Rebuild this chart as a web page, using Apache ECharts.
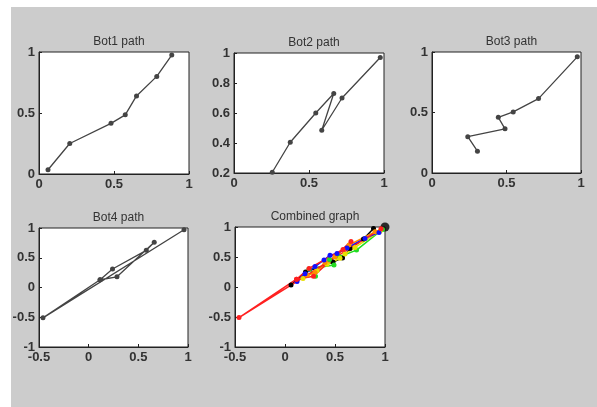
<!DOCTYPE html>
<html>
<head>
<meta charset="utf-8">
<script src="https://cdn.jsdelivr.net/npm/echarts@6/dist/echarts.min.js"></script>
<style>
  html, body { margin: 0; padding: 0; background: #fff; }
  #bg { position: absolute; left: 11px; top: 7px; right: 0; bottom: 0; background: #cccccc; }
  #chart { position: absolute; left: 0; top: 0; width: 597px; height: 407px; }
</style>
</head>
<body>
<div id="bg"></div>
<div id="chart"></div>
<script>
  // path data
  var bot1 = [[0.06, 0.035], [0.205, 0.25], [0.48, 0.415], [0.575, 0.485], [0.65, 0.64], [0.785, 0.8], [0.885, 0.975]];
  var bot2 = [[0.255, 0.205], [0.375, 0.405], [0.545, 0.6], [0.665, 0.73], [0.585, 0.485], [0.72, 0.7], [0.975, 0.97]];
  var bot3 = [[0.305, 0.18], [0.24, 0.3], [0.49, 0.365], [0.445, 0.46], [0.545, 0.505], [0.715, 0.615], [0.975, 0.96]];
  var bot4 = [[0.115, 0.13], [0.24, 0.31], [0.58, 0.625], [0.66, 0.76], [0.285, 0.18], [0.115, 0.13], [-0.46, -0.51], [0.96, 0.97]];
  // extra paths only seen in the combined graph
  var botBlue = [[0.12, 0.09], [0.2, 0.22], [0.3, 0.34], [0.39, 0.45], [0.45, 0.53], [0.52, 0.56], [0.62, 0.65], [0.8, 0.81], [0.94, 0.91]];
  var botYellow = [[0.18, 0.14], [0.32, 0.27], [0.42, 0.38], [0.55, 0.48], [0.6, 0.55], [0.7, 0.66], [0.95, 0.93]];
  var botOrange = [[0.22, 0.2], [0.3, 0.24], [0.4, 0.41], [0.5, 0.5], [0.64, 0.7], [0.9, 0.92]];
  var target = [[1, 1]];

  var titles = ['Bot1 path', 'Bot2 path', 'Bot3 path', 'Bot4 path', 'Combined graph'];
  var xRanges = [[0, 1], [0, 1], [0, 1], [-0.5, 1], [-0.5, 1]];
  var yRanges = [[0, 1, 0.5], [0.2, 1, 0.2], [0, 1, 0.5], [-1, 1, 0.5], [-1, 1, 0.5]];

  var boxes = [
    { left: 39, top: 52, width: 150, height: 122 },
    { left: 234, top: 53, width: 150, height: 120 },
    { left: 432, top: 52, width: 149, height: 121 },
    { left: 39, top: 228, width: 149, height: 119 },
    { left: 235, top: 227, width: 150, height: 120 }
  ];

  var labelStyle = { color: '#333', fontWeight: 'bold', fontFamily: 'Arial, Liberation Sans, sans-serif', fontSize: 13 };

  var grids = [], xAxes = [], yAxes = [], titleList = [];
  boxes.forEach(function (b, i) {
    grids.push({ left: b.left, top: b.top, width: b.width, height: b.height,
      show: true, backgroundColor: '#fff', borderColor: '#222', borderWidth: 1, containLabel: false });
    xAxes.push({ type: 'value', gridIndex: i, min: xRanges[i][0], max: xRanges[i][1], interval: 0.5,
      axisLine: { onZero: false, lineStyle: { color: '#222' } },
      axisTick: { inside: true, length: 3, lineStyle: { color: '#222' } },
      splitLine: { show: false },
      axisLabel: Object.assign({ margin: 4 }, labelStyle) });
    yAxes.push({ type: 'value', gridIndex: i, min: yRanges[i][0], max: yRanges[i][1], interval: yRanges[i][2],
      axisLine: { onZero: false, lineStyle: { color: '#222' } },
      axisTick: { inside: true, length: 3, lineStyle: { color: '#222' } },
      splitLine: { show: false },
      axisLabel: Object.assign({ margin: 4 }, labelStyle) });
    titleList.push({ text: titles[i], left: b.left + b.width / 2, top: b.top - 21, textAlign: 'center',
      textStyle: { color: '#333', fontWeight: 'normal', fontSize: 12, fontFamily: 'Arial, Liberation Sans, sans-serif' } });
  });

  function path(data, idx, color, width, size) {
    return { type: 'line', xAxisIndex: idx, yAxisIndex: idx, data: data,
      symbol: 'circle', symbolSize: size || 5, showSymbol: true,
      lineStyle: { color: color, width: width }, itemStyle: { color: color },
      animation: false, silent: true };
  }

  var series = [
    path(bot1, 0, '#444', 1.3),
    path(bot2, 1, '#444', 1.3),
    path(bot3, 2, '#444', 1.3),
    path(bot4, 3, '#444', 1.3),
    path(bot1, 4, '#000', 1.5),
    path(bot3, 4, '#22dd22', 1.5),
    path(botYellow, 4, '#e8e000', 1.5),
    path(botOrange, 4, '#ff8c00', 1.5),
    path(botBlue, 4, '#1010ff', 1.5),
    path(bot4, 4, '#ff2020', 1.5),
    { type: 'scatter', xAxisIndex: 4, yAxisIndex: 4, data: target, symbolSize: 9,
      itemStyle: { color: '#000' }, animation: false, silent: true }
  ];

  var myChart = echarts.init(document.getElementById('chart'));
  myChart.setOption({
    backgroundColor: 'transparent',
    title: titleList,
    grid: grids,
    xAxis: xAxes,
    yAxis: yAxes,
    series: series
  });
</script>
</body>
</html>
